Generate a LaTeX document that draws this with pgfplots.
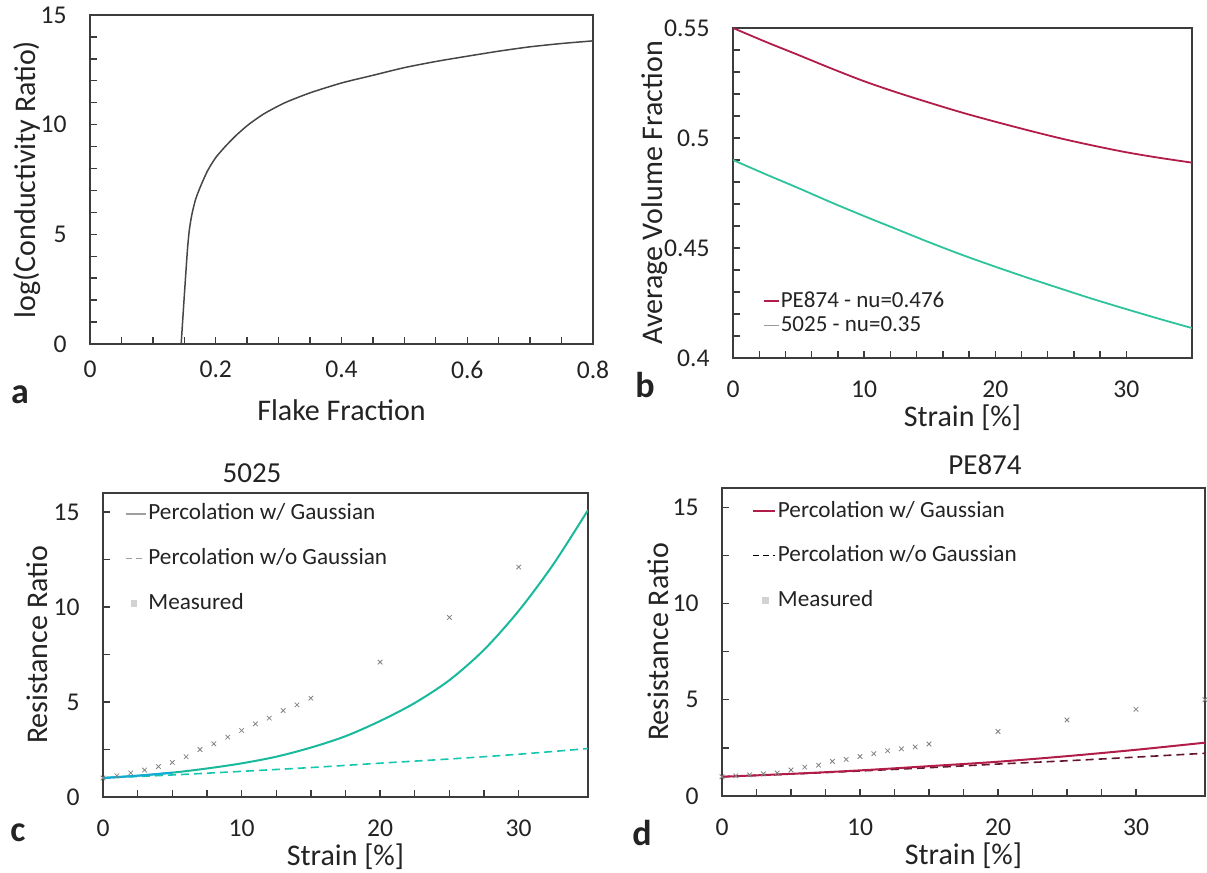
\documentclass[border=0pt]{standalone}
\usepackage{fontspec}
\setmainfont{Carlito}
\usepackage{pgfplots}
\pgfplotsset{compat=1.18}

\definecolor{axgray}{RGB}{60,60,60}
\definecolor{txtgray}{RGB}{35,35,35}
\definecolor{pered}{RGB}{178,28,72}
\definecolor{pedash}{RGB}{100,20,45}
\definecolor{mint}{RGB}{45,195,155}
\definecolor{tealc}{RGB}{25,185,155}
\definecolor{cyanc}{RGB}{20,170,215}
\definecolor{measgray}{RGB}{130,130,130}

\pgfplotsset{
 myaxis/.style={
  scale only axis,
  anchor=south west,
  axis line style={axgray, line width=0.9pt},
  every tick/.style={axgray, line width=0.7pt},
  major tick length=3.5pt, minor tick length=3.5pt,
  tick pos=left, tick align=inside,
  /pgf/number format/assume math mode=true,
  tick label style={font=\fontsize{12.8}{14}\selectfont, text=txtgray, inner sep=0pt},
  yticklabel style={xshift=-11.5pt},
  label style={font=\fontsize{15}{18}\selectfont, text=txtgray, inner sep=0pt},
  legend cell align=left,
 },
}

\begin{document}
\begin{tikzpicture}
\path[use as bounding box] (0,0) rectangle (603.5pt,436.5pt);

% ---------- panel a ----------
\begin{axis}[myaxis, at={(45pt,264.5pt)}, width=251.5pt, height=164.5pt,
  xmin=0, xmax=0.8, ymin=0, ymax=15,
  xtick={0,0.2,0.4,0.6,0.8}, ytick={0,5,10,15},
  minor x tick num=3, minor y tick num=4,
  xticklabel style={yshift=-8.45pt},
  xlabel={Flake Fraction}, ylabel={log(Conductivity Ratio)},
  xlabel style={at={([yshift=-33pt]axis description cs:0.5,0)}, anchor=center},
  ylabel style={at={([xshift=-31.5pt]axis description cs:0,0.5)}, anchor=center},
]
\addplot[color={rgb,255:red,70;green,70;blue,70}, line width=0.75pt, smooth, tension=0.4] coordinates {
(0.145,0) (0.150,2.2) (0.155,4.3) (0.158,5.2) (0.162,5.9) (0.168,6.6) (0.176,7.2)
(0.187,7.9) (0.200,8.5) (0.215,9.0) (0.232,9.5) (0.252,10.0) (0.277,10.5) (0.31,11.0)
(0.35,11.45) (0.40,11.9) (0.45,12.25) (0.50,12.6) (0.55,12.88) (0.60,13.12)
(0.65,13.35) (0.70,13.55) (0.75,13.7) (0.8,13.82)};
\end{axis}

% ---------- panel b ----------
\begin{axis}[myaxis, at={(366.5pt,257.5pt)}, width=229.5pt, height=165pt,
  xmin=0, xmax=35, ymin=0.4, ymax=0.55,
  xtick={0,10,20,30}, ytick={0.4,0.45,0.5,0.55},
  minor x tick num=4, minor y tick num=4,
  xticklabel style={yshift=-11pt},
  yticklabel style={/pgf/number format/fixed},
  xlabel={Strain [\%]}, ylabel={Average Volume Fraction},
  xlabel style={at={([yshift=-30pt]axis description cs:0.5,0)}, anchor=center},
  ylabel style={at={([xshift=-39pt]axis description cs:0,0.5)}, anchor=center},
  legend style={draw=none, fill=none, at={(axis description cs:0.065,0.062)}, anchor=south west,
    font=\fontsize{11.5}{13}\selectfont, inner sep=0pt, row sep=0pt,
    nodes={inner sep=0.5pt, text height=8.5pt, text depth=2.5pt, text=txtgray}},
]
\addlegendimage{legend image code/.code={\draw[pered, line width=0.8pt] (0pt,0pt) -- (7.5pt,0pt);}}
\addlegendentry{PE874 - nu=0.476}
\addlegendimage{legend image code/.code={\draw[gray!80, line width=0.6pt] (0pt,0pt) -- (7.5pt,0pt);}}
\addlegendentry{5025 - nu=0.35}
\addplot[pered, line width=0.9pt, smooth, forget plot] coordinates {
(0,0.550) (2.5,0.5437) (5,0.5377) (7.5,0.5316) (10,0.5258) (12.5,0.5207) (15,0.5160)
(17.5,0.5115) (20,0.5074) (22.5,0.5035) (25,0.4998) (27.5,0.4965) (30,0.4935)
(32.5,0.4910) (35,0.4888)};
\addplot[mint, line width=0.9pt, smooth, forget plot] coordinates {
(0,0.490) (2.5,0.4835) (5,0.4772) (7.5,0.4707) (10,0.4645) (12.5,0.4585) (15,0.4525)
(17.5,0.4468) (20,0.4415) (22.5,0.4364) (25,0.4315) (27.5,0.4267) (30,0.4222)
(32.5,0.4178) (35,0.4136)};
\end{axis}

% ---------- panel c ----------
\begin{axis}[myaxis, at={(51.5pt,38pt)}, width=242.5pt, height=152pt,
  xmin=0, xmax=35, ymin=0, ymax=16,
  xtick={0,10,20,30}, ytick={0,5,10,15},
  minor x tick num=3, minor y tick num=1,
  xticklabel style={yshift=-11.45pt},
  xlabel={Strain [\%]}, ylabel={Resistance Ratio},
  xlabel style={at={([yshift=-30pt]axis description cs:0.5,0)}, anchor=center},
  ylabel style={at={([xshift=-33pt]axis description cs:0,0.5)}, anchor=center},
  legend style={draw=none, fill=none, at={(axis description cs:0.045,0.975)}, anchor=north west,
    font=\fontsize{11.6}{13}\selectfont, inner sep=0pt, row sep=9.3pt,
    nodes={inner sep=1pt, text height=8.5pt, text depth=2.5pt, text=txtgray}},
]
\addlegendimage{legend image code/.code={\draw[gray!75, line width=0.6pt] (0pt,0pt) -- (10pt,0pt);}}
\addlegendentry{Percolation w/ Gaussian}
\addlegendimage{legend image code/.code={\draw[gray!75, line width=0.6pt, dash pattern=on 3pt off 2pt] (0pt,0pt) -- (10pt,0pt);}}
\addlegendentry{Percolation w/o Gaussian}
\addlegendimage{legend image code/.code={\draw[only marks, mark=square*, mark size=1.4pt, gray!35] plot coordinates {(4pt,0pt)};}}
\addlegendentry{Measured}
\addplot[only marks, mark=x, mark size=1.6pt, measgray, forget plot] coordinates {
(0,1) (1,1.12) (2,1.27) (3,1.42) (4,1.6) (5,1.82) (6,2.12) (7,2.5) (8,2.8) (9,3.15)
(10,3.5) (11,3.85) (12,4.15) (13,4.55) (14,4.85) (15,5.2) (20,7.1) (25,9.45) (30,12.1)};
\addplot[tealc!80!cyan, line width=0.8pt, dash pattern=on 4pt off 2.5pt, smooth, forget plot] coordinates {
(0,1.0) (5,1.16) (10,1.35) (15,1.55) (20,1.78) (25,2.0) (30,2.25) (35,2.55)};
\addplot[tealc, line width=1pt, smooth, forget plot] coordinates {
(0,1.0) (2.5,1.12) (5,1.28) (7.5,1.5) (10,1.77) (12.5,2.12) (15,2.6) (17.5,3.2)
(20,4.0) (22.5,4.95) (25,6.15) (27.5,7.75) (30,9.8) (32.5,12.25) (35,15.1)};
\addplot[cyanc, line width=1pt, smooth, forget plot] coordinates {
(0,1.0) (2.5,1.12) (5,1.28)};
\end{axis}
\node[font=\fontsize{14.5}{16}\selectfont, text=txtgray] at (126pt,200pt) {5025};

% ---------- panel d ----------
\begin{axis}[myaxis, at={(361pt,38.5pt)}, width=241.5pt, height=154pt,
  xmin=0, xmax=35, ymin=0, ymax=16,
  xtick={0,10,20,30}, ytick={0,5,10,15},
  minor x tick num=3, minor y tick num=1,
  xticklabel style={yshift=-11.45pt},
  xlabel={Strain [\%]}, ylabel={Resistance Ratio},
  xlabel style={at={([yshift=-30pt]axis description cs:0.5,0)}, anchor=center},
  ylabel style={at={([xshift=-32pt]axis description cs:0,0.5)}, anchor=center},
  legend style={draw=none, fill=none, at={(axis description cs:0.062,0.968)}, anchor=north west,
    font=\fontsize{11.6}{13}\selectfont, inner sep=0pt, row sep=9.3pt,
    nodes={inner sep=1pt, text height=8.5pt, text depth=2.5pt, text=txtgray}},
]
\addlegendimage{legend image code/.code={\draw[pered, line width=0.8pt] (0pt,0pt) -- (11pt,0pt);}}
\addlegendentry{Percolation w/ Gaussian}
\addlegendimage{legend image code/.code={\draw[black, line width=0.6pt, dash pattern=on 3pt off 2pt] (0pt,0pt) -- (11pt,0pt);}}
\addlegendentry{Percolation w/o Gaussian}
\addlegendimage{legend image code/.code={\draw[only marks, mark=square*, mark size=1.4pt, gray!35] plot coordinates {(6pt,0pt)};}}
\addlegendentry{Measured}
\addplot[only marks, mark=x, mark size=1.6pt, measgray, forget plot] coordinates {
(0,1.0) (1,1.05) (2,1.1) (3,1.15) (4,1.2) (5,1.35) (6,1.5) (7,1.6) (8,1.8) (9,1.9)
(10,2.05) (11,2.2) (12,2.35) (13,2.45) (14,2.55) (15,2.7) (20,3.35) (25,3.95) (30,4.5) (35,5.0)};
\addplot[pedash, line width=0.8pt, dash pattern=on 4pt off 2.5pt, smooth, forget plot] coordinates {
(0,1.0) (5,1.14) (10,1.3) (15,1.47) (20,1.66) (25,1.83) (30,2.02) (35,2.22)};
\addplot[pered, line width=1pt, smooth, forget plot] coordinates {
(0,1.0) (5,1.15) (10,1.33) (15,1.55) (20,1.78) (25,2.07) (30,2.4) (35,2.77)};
\end{axis}
\node[font=\fontsize{14.5}{16}\selectfont, text=txtgray] at (492.5pt,204pt) {PE874};

% panel letters
\node[font=\bfseries\fontsize{18}{20}\selectfont, text=txtgray] at (10pt,239pt) {a};
\node[font=\bfseries\fontsize{18}{20}\selectfont, text=txtgray] at (322.5pt,244pt) {b};
\node[font=\bfseries\fontsize{18}{20}\selectfont, text=txtgray] at (9pt,20pt) {c};
\node[font=\bfseries\fontsize{18}{20}\selectfont, text=txtgray] at (321pt,20pt) {d};
\end{tikzpicture}
\end{document}
